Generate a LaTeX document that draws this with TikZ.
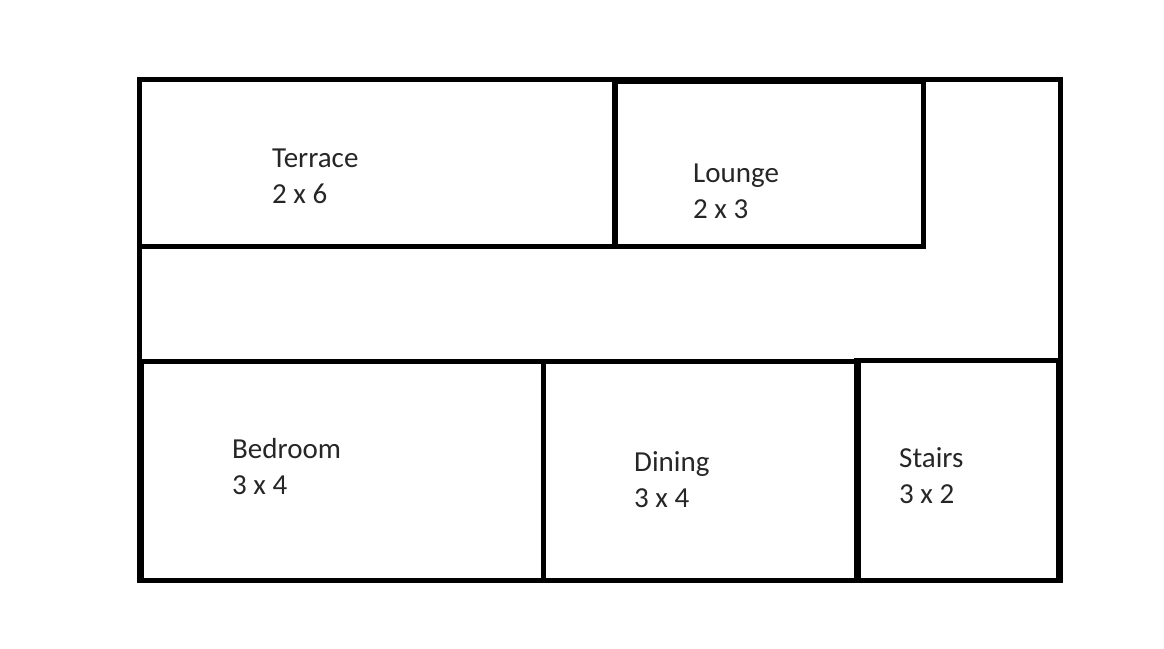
\documentclass[tikz,border=0pt]{standalone}
\usepackage{fontspec}
\setmainfont{Carlito}
\tikzstyle{wall}=[draw,line width=5pt]
\tikzstyle{room}=[anchor=west,inner sep=0pt,align=left,text=black!85,font=\fontsize{29}{36}\selectfont]

\begin{document}
\begin{tikzpicture}[x=1pt,y=-1pt]
  \useasboundingbox (0,0) rectangle (1164,648);
  \draw[wall] (139.5,79.5) rectangle (1060.5,580.5);
  \draw[wall] (139.5,79.5) rectangle (614.5,246.5);
  \draw[wall] (615,81.5) rectangle (923.5,246.5);
  \draw[wall] (141.5,361.5) rectangle (543.5,580.5);
  \draw[wall] (543.5,361.5) rectangle (858.5,580.5);
  \draw[wall] (856.5,360.5) rectangle (1058.5,580.5);
  \node[room] (terrace) at (272,176.5) {Terrace\\2 x 6};
  \node[room] (lounge) at (693,191.5) {Lounge\\2 x 3};
  \node[room] (bedroom) at (232,467) {Bedroom\\3 x 4};
  \node[room] (dining) at (634,480) {Dining\\3 x 4};
  \node[room] (stairs) at (899,476) {Stairs\\3 x 2};
\end{tikzpicture}
\end{document}
